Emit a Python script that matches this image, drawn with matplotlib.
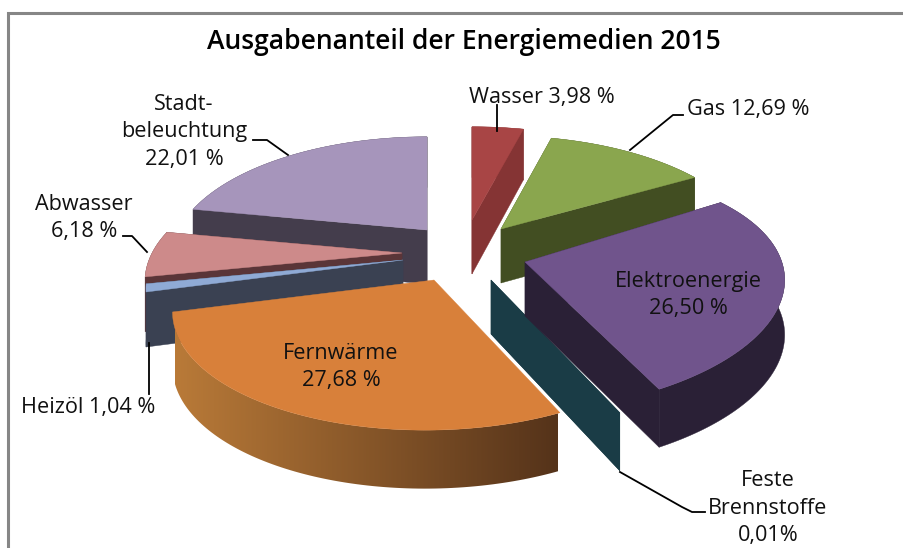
#!/usr/bin/env python3

import numpy as np
import matplotlib
matplotlib.use("Agg")
import matplotlib.pyplot as plt
from matplotlib.patches import Polygon

title = "Ausgabenanteil der Energiemedien 2015"
categories = ["Wasser", "Gas", "Elektroenergie", "Feste\nBrennstoffe", "Fernwärme", "Heizöl", "Abwasser", "Stadt-\nbeleuchtung"]
shares = [3.98, 12.69, 26.50, 0.01, 27.68, 1.04, 6.18, 22.01]
separators = [" ", " ", "\n", "\n", "\n", " ", "\n", "\n"]

# layout stuff, everything in pixels of the 904x548 picture
top_colors = ["#a84545", "#8aa64e", "#70548c", "#1a3c46", "#d8803a", "#8faad5", "#cd8a8a", "#a695bb"]
wall_colors = ["#853434", "#424e22", "#2a2036", "#1a3c46", "#a86a30", "#3a4152", "#5a3538", "#443d4c"]
apex_x = [472, 501, 525, 491, 434, 403, 402, 427]
apex_y = [220, 229, 262, 280, 280, 260, 253, 230]
# small per slice corrections, the exploded slices do not sit on one perspective exactly
rim_scale = [1, 0.98, 0.99, 1, 0.99, 0.98, 0.98, 0.975]
shear_x = [0, 0, 0, -0.05, -0.06, 0, 0, 0]
shear_y = [0, 0, -0.04, 0, 0, 0, 0, 0]
draw_order = [0, 1, 3, 2, 7, 6, 5, 4]
label_x = [542, 748, 688, 768, 341, 88, 84, 184]
label_y = [97, 110, 295, 508, 367, 408, 218, 132]
leaders = [
    [(497, 105), (497, 131)],
    [(683, 115), (673, 115), (630, 150)],
    [],
    [(620, 472), (682, 507), (692, 512), (705, 512)],
    [],
    [(149, 343), (149, 394)],
    [(123, 236), (132, 236), (147, 252)],
    [(253, 140), (267, 140), (288, 155)],
]

RX, RY, PERSP = 255, 115, 0.234
WALL = 54
FONT = ["Open Sans", "DejaVu Sans"]


def project(theta):
    # point on the tilted disc, far side comes out smaller
    px = np.sin(theta)
    py = np.cos(theta)
    s = 1 / (1 + PERSP * py)
    return RX * px * s, -RY * py * s, s


def slice_outline(i, start, end):
    n = max(2, int(np.degrees(end - start)) + 2)
    t = np.linspace(start, end, n)
    dx, dy, s = project(t)
    xs = apex_x[i] + rim_scale[i] * dx + shear_x[i] * dy
    ys = apex_y[i] + dy + shear_y[i] * dx
    return xs, ys, WALL * s ** 0.3


fig = plt.figure(figsize=(9.04, 5.48), dpi=100)
ax = fig.add_axes([0, 0, 1, 1])

# frame is only open on the right and at the bottom
ax.plot([8.5, 8.5, 904], [548, 12.5, 12.5], color="#868686", lw=2.2, solid_joinstyle="miter", zorder=1)

edges = np.cumsum([0] + shares) / sum(shares) * 2 * np.pi

# wall shading of the big orange slice
shade = np.linspace(0, 1, 200)[:, None]
gradient = (1 - shade) * np.array([0xb9, 0x7a, 0x38]) / 255 + shade * np.array([0x55, 0x33, 0x1a]) / 255
gradient = gradient[None, :, :]

z = 2
for i in draw_order:
    xs, ys, h = slice_outline(i, edges[i], edges[i + 1])

    # rim, Fernwärme gets a left to right gradient and no cut faces (they are hidden there)
    rim = list(zip(xs, ys)) + list(zip(xs[::-1], (ys + h)[::-1]))
    if categories[i] == "Fernwärme":
        patch = Polygon(rim, closed=True, fc="none", ec="none", zorder=z)
        ax.add_patch(patch)
        im = ax.imshow(gradient, extent=[175, 558, 500, 300], aspect="auto", interpolation="bilinear", zorder=z)
        im.set_clip_path(patch)
    else:
        # cut faces from the centre to the rim
        for j in [0, -1]:
            face = [(apex_x[i], apex_y[i]), (xs[j], ys[j]), (xs[j], ys[j] + h[j]), (apex_x[i], apex_y[i] + WALL)]
            ax.add_patch(Polygon(face, closed=True, fc=wall_colors[i], ec=wall_colors[i], lw=0.3, zorder=z))
        ax.add_patch(Polygon(rim, closed=True, fc=wall_colors[i], ec=wall_colors[i], lw=0.3, zorder=z))

    # lid
    if shares[i] > 0.5:
        lid = [(apex_x[i], apex_y[i])] + list(zip(xs, ys))
        ax.add_patch(Polygon(lid, closed=True, fc=top_colors[i], ec=top_colors[i], lw=0.3, zorder=z + 0.5))
    z += 1

for pts in leaders:
    if pts:
        ax.plot([p[0] for p in pts], [p[1] for p in pts], color="black", lw=1.3, zorder=30)

ax.text(464, 42, title, ha="center", va="center", fontsize=19.1, family=FONT, fontweight=600, color="black", zorder=40)

for i in range(len(categories)):
    value = f"{shares[i]:.2f}".replace(".", ",")
    unit = "%" if categories[i].startswith("Feste") else " %"
    ax.text(label_x[i], label_y[i], categories[i] + separators[i] + value + unit,
            ha="center", va="center", ma="center", fontsize=15.6, linespacing=1.42,
            family=FONT, color="#111111", zorder=40)

ax.set_xlim(0, 904)
ax.set_ylim(548, 0)
ax.axis("off")

fig.savefig("out.png", dpi=100, facecolor="white")
